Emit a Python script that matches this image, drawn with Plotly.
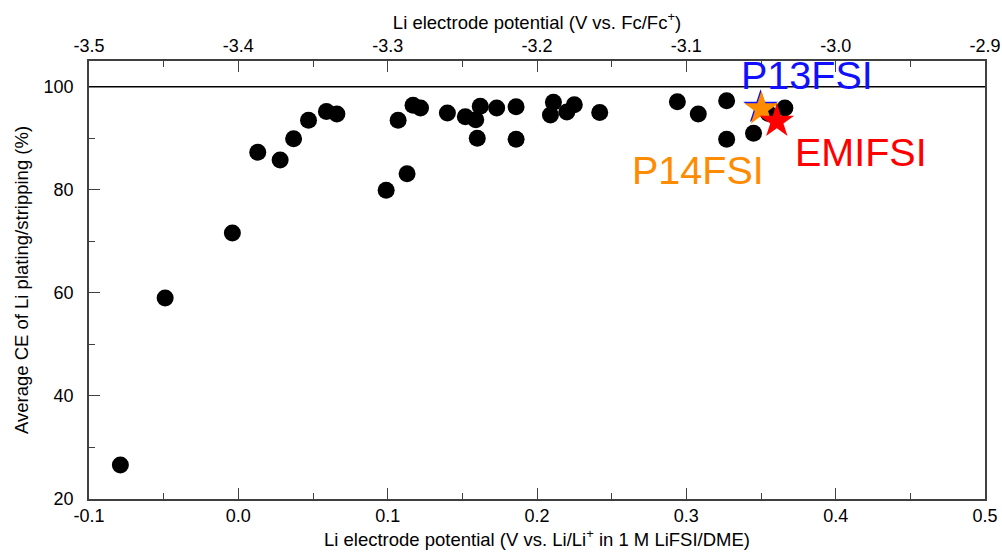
import plotly.graph_objects as go

# Li electrode potential (V vs. Li/Li+ in 1 M LiFSI/DME) and average CE (%)
x_li = [-0.079, -0.049, -0.004, 0.013, 0.028, 0.037, 0.047, 0.059, 0.066, 0.099,
        0.107, 0.113, 0.117, 0.122, 0.140, 0.152, 0.159, 0.160, 0.162, 0.173,
        0.186, 0.186, 0.209, 0.211, 0.220, 0.225, 0.242, 0.294, 0.308, 0.327,
        0.327, 0.345, 0.355, 0.366]
ce = [26.6, 59.0, 71.6, 87.3, 85.8, 89.9, 93.5, 95.2, 94.7, 79.9,
      93.5, 83.1, 96.4, 95.9, 94.9, 94.2, 93.6, 90.0, 96.2, 95.9,
      96.1, 89.8, 94.5, 97.0, 95.1, 96.5, 95.0, 97.1, 94.7, 97.3,
      89.8, 91.0, 94.8, 95.9]

# Ionic liquids (stars)
il_names = ["P13FSI", "P14FSI", "EMIFSI"]
il_x = [0.3497, 0.3503, 0.3606]
il_ce = [96.0, 95.7, 93.3]
il_colors = ["#1010ff", "#ff8c00", "#ff0000"]
label_x = [0.381, 0.308, 0.417]
label_y = [102.3, 83.8, 87.4]

# axis ticks
x_ticks = [-0.1, 0.0, 0.1, 0.2, 0.3, 0.4, 0.5]
x_ticktext = ["-0.1", "0.0", "0.1", "0.2", "0.3", "0.4", "0.5"]
fc_ticks = [-3.5, -3.4, -3.3, -3.2, -3.1, -3.0, -2.9]
fc_ticktext = ["-3.5", "-3.4", "-3.3", "-3.2", "-3.1", "-3.0", "-2.9"]
y_ticks = [20, 40, 60, 80, 100]

x_range = [-0.1, 0.5]
fc_range = [-3.5, -2.9]
y_range = [20, 105]

FONT = "Liberation Sans, Arial, sans-serif"
AX = "#404040"
TICK_SIZE = 18
TITLE_SIZE = 18.5

fig = go.Figure()
fig.add_trace(go.Scatter(x=x_li, y=ce, mode="markers",
                         marker=dict(color="black", size=17, line=dict(width=0)),
                         showlegend=False))
for n, xv, yv, c in zip(il_names, il_x, il_ce, il_colors):
    fig.add_trace(go.Scatter(x=[xv], y=[yv], mode="markers",
                             marker=dict(symbol="star", color=c, size=26, line=dict(width=0)),
                             showlegend=False))
# invisible trace for top axis
fig.add_trace(go.Scatter(x=fc_range, y=[None, None],
                         xaxis="x2", mode="markers", showlegend=False, hoverinfo="skip"))

for n, xv, yv, c in zip(il_names, label_x, label_y, il_colors):
    fig.add_annotation(x=xv, y=yv, text=n, showarrow=False,
                       font=dict(family=FONT, size=39.5, color=c),
                       xanchor="center", yanchor="middle")

fig.add_shape(type="line", xref="paper", x0=0, x1=1, yref="y", y0=100, y1=100,
              line=dict(color="black", width=1.3))

tickfont = dict(family=FONT, size=TICK_SIZE, color="black")
common = dict(ticks="inside", ticklen=11, tickwidth=1.3, tickcolor=AX,
              showline=True, linecolor=AX, linewidth=1.5, showgrid=False,
              zeroline=False, tickfont=tickfont, automargin=False)
fig.update_layout(
    width=1002, height=554,
    margin=dict(l=89, r=17, t=61, b=55),
    plot_bgcolor="white", paper_bgcolor="white",
    font=dict(family=FONT, color="black"),
    xaxis=dict(range=x_range, tickmode="array", tickvals=x_ticks, ticktext=x_ticktext,
               minor=dict(ticks="inside", ticklen=6, dtick=0.05, tick0=0, tickcolor=AX, tickwidth=1.3),
               title=dict(text="Li electrode potential (V vs. Li/Li<sup>+</sup> in 1 M LiFSI/DME)",
                          font=dict(family=FONT, size=TITLE_SIZE), standoff=2),
               **common),
    xaxis2=dict(range=fc_range, overlaying="x", side="top",
                tickmode="array", tickvals=fc_ticks, ticktext=fc_ticktext,
                minor=dict(ticks="inside", ticklen=6, dtick=0.05, tick0=-3.5, tickcolor=AX, tickwidth=1.3),
                title=dict(text="Li electrode potential (V vs. Fc/Fc<sup>+</sup>)",
                           font=dict(family=FONT, size=TITLE_SIZE), standoff=2),
                **common),
    yaxis=dict(range=y_range, tickmode="array", tickvals=y_ticks,
               minor=dict(ticks="inside", ticklen=6, dtick=10, tick0=20, tickcolor=AX, tickwidth=1.3),
               mirror=True, ticklabelstandoff=10,
               title=dict(text="Average CE of Li plating/stripping (%)",
                          font=dict(family=FONT, size=TITLE_SIZE), standoff=10),
               **common),
)

fig.write_html("out.html")
